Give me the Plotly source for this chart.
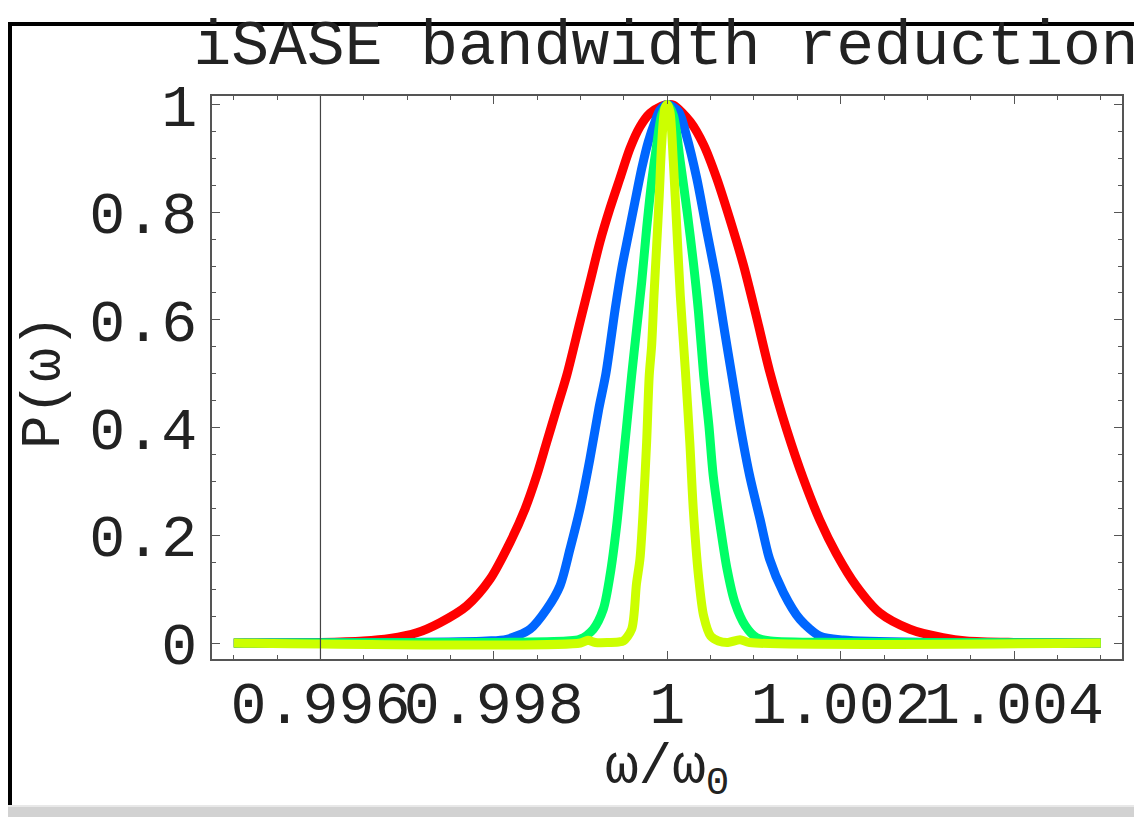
import plotly.graph_objects as go

# spectra (omega/omega0, P)
red_x = [0.995, 0.996, 0.996494, 0.996802, 0.997110, 0.997378, 0.997686, 0.997956,
         0.998186, 0.998359, 0.998494, 0.998609, 0.998724, 0.998840, 0.998993, 0.999108,
         0.999224, 0.999339, 0.999454, 0.999570, 0.999685, 0.999800, 0.999935, 1.0,
         1.000070, 1.000265, 1.000420, 1.000570, 1.000720, 1.000880, 1.001030, 1.001180,
         1.001380, 1.001570, 1.001760, 1.001950, 1.002180, 1.002450, 1.002800, 1.003180,
         1.003450, 1.004, 1.005]
red_y = [0.0, 0.001, 0.0037, 0.0085, 0.019, 0.0378, 0.0688, 0.1185,
         0.1866, 0.2487, 0.3107, 0.3727, 0.4347, 0.4967, 0.596, 0.670,
         0.745, 0.807, 0.8627, 0.9185, 0.9587, 0.9836, 0.997, 1.0,
         0.999, 0.968, 0.925, 0.863, 0.788, 0.701, 0.605, 0.505,
         0.395, 0.305, 0.228, 0.166, 0.106, 0.056, 0.0255, 0.0099,
         0.0037, 0.001, 0.0]

blue_x = [0.995, 0.997, 0.997917, 0.998148, 0.998416, 0.998609, 0.998762, 0.998878,
          0.998993, 0.999108, 0.999210, 0.999292, 0.999400, 0.999474, 0.999550, 0.999627,
          0.999705, 0.999781, 0.999858, 0.999916, 1.0, 1.000130, 1.000220, 1.000340,
          1.000450, 1.000570, 1.000660, 1.000745, 1.000840, 1.000950, 1.001070, 1.001180,
          1.001340, 1.001530, 1.001760, 1.002030, 1.003, 1.005]
blue_y = [0.0, 0.001, 0.0037, 0.0069, 0.0255, 0.0627, 0.106, 0.1743,
          0.2487, 0.3417, 0.4347, 0.50, 0.621, 0.695, 0.757, 0.819,
          0.881, 0.931, 0.968, 0.9898, 1.0, 0.987, 0.943, 0.863,
          0.770, 0.670, 0.580, 0.4967, 0.404, 0.311, 0.230, 0.156,
          0.0936, 0.044, 0.013, 0.0056, 0.001, 0.0]

green_x = [0.995, 0.998, 0.998840, 0.998993, 0.999146, 0.999262, 0.999339, 0.999416,
           0.999474, 0.999532, 0.999589, 0.999647, 0.999705, 0.999762, 0.999820, 0.999878,
           0.999935, 1.0, 1.000070, 1.000150, 1.000230, 1.000300, 1.000360, 1.000420,
           1.000480, 1.000530, 1.000610, 1.000690, 1.000780, 1.000900, 1.001030, 1.001190,
           1.002, 1.005]
green_y = [0.0, 0.001, 0.0037, 0.0069, 0.0255, 0.0627, 0.1247, 0.2177,
           0.3107, 0.4037, 0.4967, 0.5837, 0.670, 0.7697, 0.8564, 0.9247,
           0.980, 1.0, 0.980, 0.894, 0.800, 0.708, 0.615, 0.4967,
           0.404, 0.311, 0.218, 0.137, 0.075, 0.032, 0.0099, 0.0037,
           0.001, 0.0]

yellow_x = [0.995, 0.999000, 0.999085, 0.999170, 0.999440, 0.999493, 0.999589, 0.999645,
            0.999685, 0.999723, 0.999762, 0.999792, 0.999820, 0.999847, 0.999878, 0.999908,
            0.999935, 0.999973, 1.0, 1.000030, 1.000070, 1.000110, 1.000150, 1.000210,
            1.000260, 1.000300, 1.000360, 1.000420, 1.000500, 1.000590, 1.000700, 1.000840,
            1.000950, 1.005]
yellow_y = [0.0, 0.0, 0.005, 0.001, 0.002, 0.0037, 0.0255, 0.11,
            0.1557, 0.2487, 0.3727, 0.4967, 0.5526, 0.6456, 0.7386, 0.832,
            0.925, 0.993, 1.0, 0.987, 0.894, 0.770, 0.646, 0.503,
            0.373, 0.249, 0.125, 0.050, 0.013, 0.0037, 0.001, 0.006,
            0.001, 0.0]

curves = [
    (red_x, red_y, "#ff0000"),
    (blue_x, blue_y, "#0066ff"),
    (green_x, green_y, "#00ff66"),
    (yellow_x, yellow_y, "#ccff00"),
]

x_tickvals = [0.996, 0.998, 1.0, 1.002, 1.004]
x_ticktext = ["0.996", "0.998", "1", "1.002", "1.004"]
y_tickvals = [0, 0.2, 0.4, 0.6, 0.8, 1.0]
y_ticktext = ["0", "0.2", "0.4", "0.6", "0.8", "1"]
axis_x = 0.996

# page body has an 8px margin, so the figure is laid out 8px smaller
OFF = 8
W, H = 1142 - OFF, 817 - OFF
L, R, T, B = 212 - OFF, 20, 96 - OFF, 817 - 659
PW, PH = W - L - R, H - T - B


def px_x(px):
    # page pixel -> paper x
    return (px - OFF - L) / PW


def px_y(py):
    # page pixel -> paper y
    return (H - B - (py - OFF)) / PH


FONT = "Courier New, Liberation Mono, monospace"
TXT = "#222"

fig = go.Figure()
for xs, ys, col in curves:
    fig.add_trace(
        go.Scatter(
            x=xs, y=ys, mode="lines",
            line=dict(color=col, width=9, shape="spline", smoothing=0.8),
            showlegend=False, hoverinfo="skip",
        )
    )

axis_common = dict(
    showgrid=False, zeroline=False, showline=True, linecolor="#555",
    linewidth=1.5, mirror="ticks", ticks="inside", ticklen=8, tickwidth=1.2,
    tickcolor="#555", tickangle=0, automargin=False,
    tickfont=dict(family=FONT, size=60, color=TXT),
)

fig.update_xaxes(
    range=[0.994749, 1.005245], tickmode="array",
    tickvals=x_tickvals, ticktext=x_ticktext, ticklabelstandoff=-10,
    minor=dict(tickmode="linear", tick0=0.995, dtick=0.0005, ticklen=4,
               ticks="inside", tickcolor="#555", tickwidth=1),
    **axis_common,
)
fig.update_yaxes(
    range=[-0.0297, 1.0158], tickmode="array",
    tickvals=y_tickvals, ticktext=y_ticktext, ticklabelstandoff=1,
    minor=dict(tickmode="linear", tick0=0, dtick=0.05, ticklen=4,
               ticks="inside", tickcolor="#555", tickwidth=1),
    **axis_common,
)

shapes = [
    # y axis line drawn at 0.996
    dict(type="line", xref="x", yref="paper", x0=axis_x, x1=axis_x, y0=0, y1=1,
         line=dict(color="#444", width=1.2)),
    # window border
    dict(type="line", xref="paper", yref="paper", x0=px_x(8), x1=px_x(1142),
         y0=px_y(24), y1=px_y(24), line=dict(color="black", width=4)),
    dict(type="line", xref="paper", yref="paper", x0=px_x(10), x1=px_x(10),
         y0=px_y(22), y1=px_y(808), line=dict(color="black", width=4)),
    dict(type="rect", xref="paper", yref="paper", x0=px_x(8), x1=px_x(1142),
         y0=px_y(817), y1=px_y(806), fillcolor="#d2d2d2", line=dict(width=0)),
    dict(type="line", xref="paper", yref="paper", x0=px_x(8), x1=px_x(1142),
         y0=px_y(806), y1=px_y(806), line=dict(color="#e8e8e8", width=2)),
]

annotations = [
    dict(text="ω/ω<sub>0</sub>", xref="paper", yref="paper",
         x=px_x(667), y=px_y(770), showarrow=False, xanchor="center", yanchor="middle",
         font=dict(family=FONT, size=56, color=TXT)),
    dict(text="P(ω)", xref="paper", yref="paper", textangle=-90,
         x=px_x(44), y=px_y(382), showarrow=False, xanchor="center", yanchor="middle",
         font=dict(family=FONT, size=56, color=TXT)),
]

fig.update_layout(
    width=W, height=H,
    margin=dict(l=L, r=R, t=T, b=B, autoexpand=False),
    paper_bgcolor="white", plot_bgcolor="white",
    title=dict(text="iSASE bandwidth reduction", x=px_x(666), xref="paper",
               xanchor="center", y=1 - (42 - OFF) / H, yref="container",
               yanchor="middle", font=dict(family=FONT, size=63, color=TXT)),
    shapes=shapes, annotations=annotations,
)

fig.write_html("out.html")
